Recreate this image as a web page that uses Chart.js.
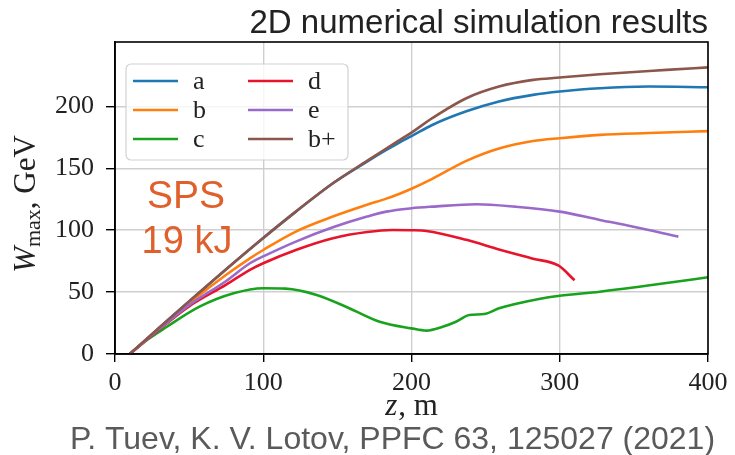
<!DOCTYPE html>
<html><head><meta charset="utf-8">
<script src="https://cdn.jsdelivr.net/npm/chart.js@4/dist/chart.umd.min.js"></script>
<style>html,body{margin:0;padding:0;background:#fff}#w{width:735px;height:455px}</style>
</head><body><div id="w"><canvas id="c" width="735" height="455"></canvas></div>
<script>
// ---- data (z in m, W_max in GeV) ----
const seriesLabels = ['a','b','c','d','e','b+'];
const zA = [10,30,50,75,100,122,147,170,183,192,200,214,237,259,282,300,327,360,400];
const wA = [0,21.5,42.5,68.5,93.7,115,137.9,155.4,164.8,171,176,185,196,204,209.3,212,214.7,216,215.5];
const zB = [10,30,50,75,91,100,122,147,170,183,192,200,214,237,259,282,300,327,360,400];
const wB = [0,21,41,64,77.3,84,98.9,111,120.5,125.5,129.5,133.5,141.5,156,166,172,174.3,177,178.5,180];
const zC = [10,20,35,57,80,100,115,136,158,178.5,200,210,221,230,239,249,259,270,286,300,327,372,400];
const wC = [0,10,22,38.2,49,53.1,52.8,47.7,37,26.1,20.7,18.9,22,26.1,31.5,32.3,36.9,40.4,44.5,47,50.3,57.3,62];
const zD = [10,30,50,75,91,100,122,147,170,187,200,210,237,259,282,299,310];
const wD = [0,20,38.5,56,68,73.3,84,93.5,98.5,100.2,100,99.4,92.2,84.5,77,71.5,59.5];
const zE = [10,30,50,75,91,100,122,147,170,183,200,214,244,270,300,327,349,380];
const wE = [0,20.5,39.5,59,73.3,78.8,90.8,102.3,111,115,117.7,119,121,119,115,108.3,103,94.8];
const zBp = [10,30,50,75,100,122,147,170,183,192,200,214,237,259,282,300,327,372,400];
const wBp = [0,21.5,42.5,68.5,93.7,115,137.9,156,166,172.8,178.8,190.5,206.6,216,221.4,223.3,226,229.5,231.5];
const xTicks = [0,100,200,300,400];
const yTicks = [0,50,100,150,200];

const colors = ['#1f77b4','#ff7f0e','#19a31c','#e8142b','#9a69c9','#8c564b'];
const zs = [zA,zB,zC,zD,zE,zBp];
const ws = [wA,wB,wC,wD,wE,wBp];

const datasets = seriesLabels.map((lab,i)=>({
  label: lab,
  data: zs[i].map((z,k)=>({x:z,y:ws[i][k]})),
  borderColor: colors[i],
  backgroundColor: colors[i],
  borderWidth: 2.6,
  pointRadius: 0,
  fill: false,
  cubicInterpolationMode: 'monotone',
  order: 6 - i
}));

const SERIF = '"Liberation Serif", "DejaVu Serif", serif';
const SANS = '"Liberation Sans", Arial, sans-serif';

const decor = {
  id: 'decor',
  afterDatasetsDraw(chart){
    const ctx = chart.ctx, ca = chart.chartArea;
    ctx.save();
    // frame
    ctx.strokeStyle = '#000'; ctx.lineWidth = 1.6;
    ctx.strokeRect(ca.left, ca.top, ca.right-ca.left, ca.bottom-ca.top);
    // legend
    const bx=126, by=64, bw=222, bh=96, r=5;
    ctx.beginPath();
    ctx.moveTo(bx+r,by); ctx.lineTo(bx+bw-r,by); ctx.arcTo(bx+bw,by,bx+bw,by+r,r);
    ctx.lineTo(bx+bw,by+bh-r); ctx.arcTo(bx+bw,by+bh,bx+bw-r,by+bh,r);
    ctx.lineTo(bx+r,by+bh); ctx.arcTo(bx,by+bh,bx,by+bh-r,r);
    ctx.lineTo(bx,by+r); ctx.arcTo(bx,by,bx+r,by,r); ctx.closePath();
    ctx.fillStyle='rgba(255,255,255,0.8)'; ctx.fill();
    ctx.strokeStyle='#d2d2d2'; ctx.lineWidth=1.2; ctx.stroke();
    const ds = chart.data.datasets;
    const rows=[81,110,139];
    ctx.font = '26px '+SERIF; ctx.textBaseline='middle'; ctx.textAlign='left';
    ds.forEach((d,i)=>{
      const col = i<3?0:1, row=i%3;
      const x0 = col? 248:133, tx = col? 308:193, y = rows[row];
      ctx.strokeStyle=d.borderColor; ctx.lineWidth=2.6;
      ctx.beginPath(); ctx.moveTo(x0,y); ctx.lineTo(x0+45,y); ctx.stroke();
      ctx.fillStyle='#222'; ctx.fillText(d.label, tx, y+1);
    });
    // SPS annotation
    ctx.fillStyle='#e0602c'; ctx.textAlign='center'; ctx.textBaseline='alphabetic';
    ctx.font='39px '+SANS; ctx.fillText('SPS', 186, 208);
    ctx.font='38px '+SANS; ctx.fillText('19 kJ', 187, 253);
    ctx.restore();
  },
  afterDraw(chart){
    const ctx = chart.ctx;
    ctx.save();
    // title
    ctx.fillStyle='#222'; ctx.font='33px '+SANS; ctx.textAlign='right'; ctx.textBaseline='alphabetic';
    ctx.fillText('2D numerical simulation results', 708, 33);
    // citation
    ctx.fillStyle='#5a5a5a'; ctx.font='32px '+SANS; ctx.textAlign='center';
    ctx.fillText('P. Tuev, K. V. Lotov, PPFC 63, 125027 (2021)', 392.5, 449);
    // x axis title
    ctx.fillStyle='#222';
    const f1='italic 31px '+SERIF, f2='31px '+SERIF;
    ctx.textAlign='left';
    ctx.font=f1; const wz=ctx.measureText('z').width;
    ctx.font=f2; const wm=ctx.measureText(', m').width;
    let sx = 411 - (wz+wm)/2;
    ctx.font=f1; ctx.fillText('z', sx, 415);
    ctx.font=f2; ctx.fillText(', m', sx+wz+1, 415);
    // y axis title
    ctx.translate(35, 204); ctx.rotate(-Math.PI/2);
    const fs='22px '+SERIF;
    ctx.font=f1; const wW=ctx.measureText('W').width;
    ctx.font=fs; const wmax=ctx.measureText('max').width;
    ctx.font=f2; const wg=ctx.measureText(', GeV').width;
    let tx = -(wW+wmax+wg)/2;
    ctx.font=f1; ctx.fillText('W', tx, 0); tx+=wW;
    ctx.font=fs; ctx.fillText('max', tx, 5); tx+=wmax;
    ctx.font=f2; ctx.fillText(', GeV', tx, 0);
    ctx.restore();
  }
};

new Chart(document.getElementById('c'), {
  type: 'line',
  data: { datasets },
  options: {
    responsive: false,
    animation: false,
    devicePixelRatio: 1,
    layout: { padding: { left: 0, right: 27, top: 42, bottom: 0 } },
    plugins: { legend: { display: false }, tooltip: { enabled: false }, title: { display: false } },
    scales: {
      x: {
        type: 'linear', min: 0, max: 400,
        afterBuildTicks: s => { s.ticks = xTicks.map(v => ({ value: v })); },
        afterFit: s => { s.height = 101; },
        grid: { color: '#cfcfcf', lineWidth: 1.4, tickColor: '#000', tickLength: 8, drawTicks: true },
        border: { display: true, color: '#000', width: 1.6 },
        ticks: { font: { family: SERIF, size: 26 }, color: '#222', padding: 6, maxRotation: 0, callback: v => String(v) }
      },
      y: {
        type: 'linear', min: 0, max: 252,
        afterBuildTicks: s => { s.ticks = yTicks.map(v => ({ value: v })); },
        afterFit: s => { s.width = 115; },
        grid: { color: '#cfcfcf', lineWidth: 1.4, tickColor: '#000', tickLength: 9, drawTicks: true },
        border: { display: true, color: '#000', width: 1.6 },
        ticks: { font: { family: SERIF, size: 26 }, color: '#222', padding: 12, callback: v => String(v) }
      }
    }
  },
  plugins: [decor]
});
</script>
</body></html>
